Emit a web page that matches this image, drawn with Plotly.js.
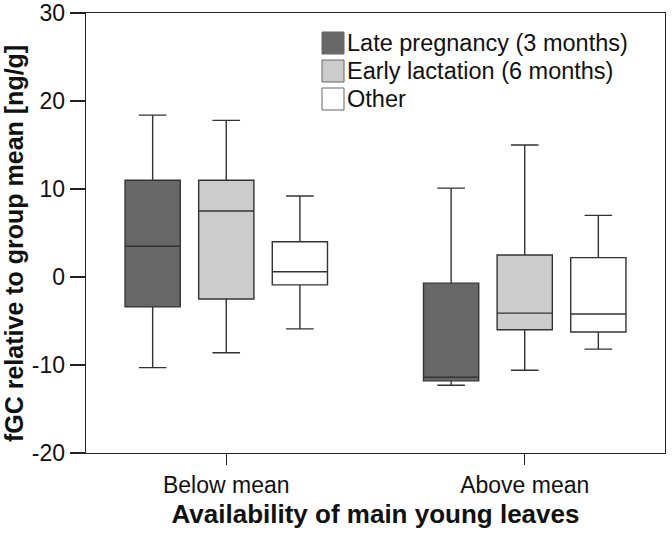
<!DOCTYPE html>
<html>
<head>
<meta charset="utf-8">
<script src="https://cdn.plot.ly/plotly-3.0.1.min.js"></script>
<style>
  html, body { margin: 0; padding: 0; background: #fff; }
  #chart { width: 672px; height: 539px; }
</style>
</head>
<body>
<div id="chart"></div>
<script>
// categories on the x axis
const groups = ['Below mean', 'Above mean'];

// series names and fills
const seriesNames = ['Late pregnancy (3 months)', 'Early lactation (6 months)', 'Other'];
const seriesFill = ['#676767', '#cccccc', '#ffffff'];

// box stats per series, one value per group
const lowerWhisker = [[-10.3, -12.3], [-8.6, -10.6], [-5.9, -8.2]];
const q1Vals       = [[-3.4, -11.8], [-2.5, -6.0], [-0.9, -6.25]];
const medianVals   = [[3.5, -11.4], [7.5, -4.1], [0.6, -4.2]];
const q3Vals       = [[11.0, -0.7], [11.0, 2.5], [4.0, 2.2]];
const upperWhisker = [[18.4, 10.1], [17.8, 15.0], [9.2, 7.0]];

// y ticks (plain hyphen, as in the original)
const yTickVals = [-20, -10, 0, 10, 20, 30];
const yTickText = ['-20', '-10', '0', '10', '20', '30'];

const traces = seriesNames.map((name, i) => ({
  type: 'box',
  name: name,
  x: groups,
  lowerfence: lowerWhisker[i],
  q1: q1Vals[i],
  median: medianVals[i],
  q3: q3Vals[i],
  upperfence: upperWhisker[i],
  fillcolor: seriesFill[i],
  line: { color: '#333333', width: 1.4 },
  whiskerwidth: 0.5,
  showlegend: false,
  hoverinfo: 'skip'
}));

// legend drawn by hand so the swatches can be as big as the original ones
// (plot area is 579 x 440 px; rows are 28 px apart)
const legendShapes = [];
const legendNotes = [];
seriesNames.forEach((name, i) => {
  const cy = 43 + 28 * i - 13; // px from top of plot area
  legendShapes.push({
    type: 'rect', xref: 'paper', yref: 'paper',
    x0: (322 - 86) / 579, x1: (344 - 86) / 579,
    y0: 1 - (cy + 11) / 440, y1: 1 - (cy - 11) / 440,
    fillcolor: seriesFill[i],
    line: { color: '#666666', width: 1 }
  });
  legendNotes.push({
    xref: 'paper', yref: 'paper',
    x: (345 - 86) / 579, y: 1 - cy / 440,
    xanchor: 'left', yanchor: 'middle',
    text: name, showarrow: false,
    font: { size: 23.5, color: '#111111' }
  });
});

const layout = {
  width: 672,
  height: 539,
  margin: { l: 86, r: 7, t: 13, b: 86 },
  paper_bgcolor: '#ffffff',
  plot_bgcolor: '#ffffff',
  font: { family: 'Liberation Sans, Arial, sans-serif', color: '#111111' },
  boxmode: 'group',
  boxgap: 0.26,
  boxgroupgap: 0.25,
  showlegend: false,
  shapes: legendShapes,
  annotations: legendNotes,
  xaxis: {
    type: 'category',
    range: [-0.47, 1.47],
    showline: true, mirror: true, linecolor: '#222222', linewidth: 1.3,
    ticks: 'outside', ticklen: 11, tickcolor: '#222222', tickwidth: 1.3,
    tickfont: { size: 23 },
    showgrid: false, zeroline: false,
    title: { text: '<b>Availability of main young leaves</b>', font: { size: 26 }, standoff: 8 }
  },
  yaxis: {
    range: [-20, 30],
    tickvals: yTickVals,
    ticktext: yTickText,
    ticklabeloverflow: 'allow',
    showline: true, mirror: true, linecolor: '#222222', linewidth: 1.3,
    ticks: 'outside', ticklen: 15, tickcolor: '#222222', tickwidth: 1.3,
    tickfont: { size: 23 },
    showgrid: false, zeroline: false,
    // trailing spaces nudge the rotated title down a little, like the original
    title: { text: '<b>fGC relative to group mean [ng/g]</b>&nbsp;&nbsp;&nbsp;', font: { size: 25 }, standoff: 8 }
  }
};

Plotly.newPlot('chart', traces, layout, { displayModeBar: false, staticPlot: true });
</script>
</body>
</html>
